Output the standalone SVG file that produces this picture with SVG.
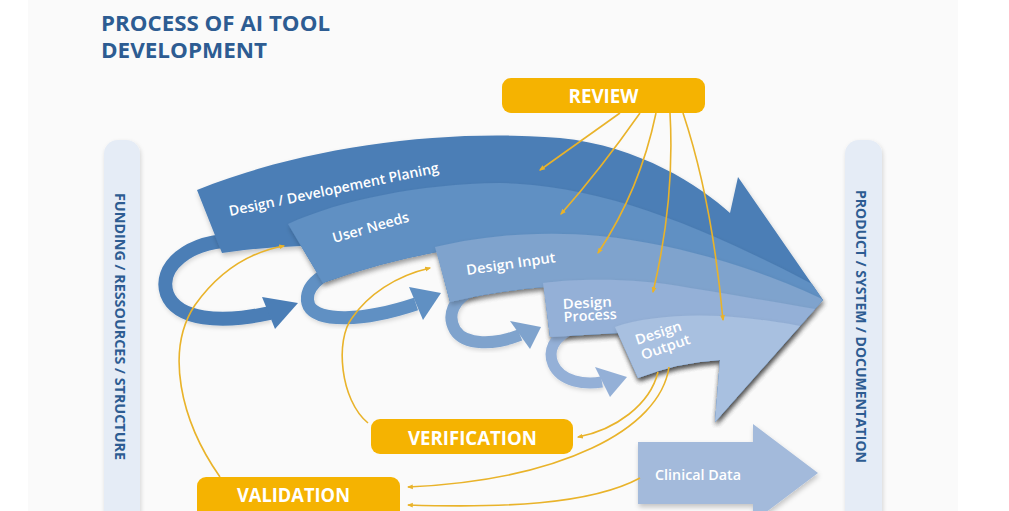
<svg xmlns="http://www.w3.org/2000/svg" width="1009" height="511" viewBox="0 0 1009 511">
<defs>
<style>
.title{font-family:"Open Sans","Liberation Sans",sans-serif;font-weight:700;font-size:22px;fill:#2d5c92}
.side{font-family:"Open Sans","Liberation Sans",sans-serif;font-weight:700;font-size:13.5px;fill:#2d5c92}
.btn{font-family:"Open Sans","Liberation Sans",sans-serif;font-weight:700;font-size:20px;fill:#ffffff;text-anchor:middle}
.lbl{font-family:"Open Sans","Liberation Sans",sans-serif;font-weight:600;font-size:14px;fill:#ffffff}
.ybox{fill:#f5b301}
.bar{fill:#e5ecf6}
.conn{fill:none;stroke:#e9b32a;stroke-width:1.6}
.loop{fill:none;stroke-linecap:butt}
</style>
<filter id="sh" x="-10%" y="-10%" width="125%" height="135%">
<feDropShadow dx="1" dy="3" stdDeviation="2.5" flood-color="#000" flood-opacity="0.22"/>
</filter>
<filter id="sh2" x="-20%" y="-10%" width="150%" height="130%">
<feDropShadow dx="1" dy="2" stdDeviation="2" flood-color="#000" flood-opacity="0.15"/>
</filter>
<marker id="ah" viewBox="0 0 10 10" refX="8" refY="5" markerWidth="6" markerHeight="6" orient="auto" markerUnits="userSpaceOnUse">
<path d="M0,1 L10,5 L0,9 Z" fill="#e9b32a"/>
</marker>
</defs>

<rect x="0" y="0" width="1009" height="511" fill="#ffffff"/>
<rect x="28" y="0" width="930" height="511" fill="#fafafa"/>

<g id="title">
<text class="title" x="101" y="30.5" textLength="229" lengthAdjust="spacingAndGlyphs">PROCESS OF AI TOOL</text>
<text class="title" x="101" y="58" textLength="166" lengthAdjust="spacingAndGlyphs">DEVELOPMENT</text>
</g>

<g id="left-bar">
<rect class="bar" x="104" y="140" width="36" height="400" rx="14" filter="url(#sh2)"/>
<text class="side" transform="translate(115,193) rotate(90)" textLength="267" lengthAdjust="spacingAndGlyphs">FUNDING / RESSOURCES / STRUCTURE</text>
</g>

<g id="right-bar">
<rect class="bar" x="845" y="140" width="37" height="400" rx="14" filter="url(#sh2)"/>
<text class="side" transform="translate(856,190) rotate(90)" textLength="273" lengthAdjust="spacingAndGlyphs">PRODUCT / SYSTEM / DOCUMENTATION</text>
</g>

<g id="loop-1">
<path class="loop" d="M240,240 C186,240 158,268 167,294 C177,320 220,324 270,313" stroke="#4b7eb6" stroke-width="14" filter="url(#sh2)"/>
<polygon points="262,297 298,303 275,329" fill="#4b7eb6"/>
</g>
<g id="band-1">
<path d="M197,190 C300,148 440,128 560,138 C640,146 700,186 730,213 L738,177 L823,300 L715,422 L720,360 Q680,362 638,378 L618,333 L550,337 L544,287 Q495,291 450,302 L437,252 Q378,263 323,283 L301,246 Q262,247 222,253 Z" fill="#4b7eb6" filter="url(#sh)"/>
<text class="lbl" transform="translate(230,216) rotate(-11.8)" textLength="214" lengthAdjust="spacingAndGlyphs">Design / Developement Planing</text>
</g>

<g id="loop-2">
<path class="loop" d="M352,265 C318,272 302,290 309,306 C318,322 362,322 416,304" stroke="#6090c3" stroke-width="13" filter="url(#sh2)"/>
<polygon points="409,287 441,293 423,320" fill="#6090c3"/>
</g>
<g id="band-2">
<path d="M288,224 C340,200 420,184 500,183 C600,185 700,225 812,284 L823,300 L715,422 L720,360 Q680,362 638,378 L618,333 L550,337 L544,287 Q495,291 450,302 L437,252 Q378,263 323,283 Z" fill="#6090c3" filter="url(#sh)"/>
<text class="lbl" transform="translate(334,243) rotate(-16)" textLength="79" lengthAdjust="spacingAndGlyphs">User Needs</text>
</g>

<g id="loop-3">
<path class="loop" d="M476,289 C452,298 447,316 455,330 C465,346 495,345 520,335" stroke="#7fa3cd" stroke-width="12" filter="url(#sh2)"/>
<polygon points="510,321 541,327 530,349" fill="#7fa3cd"/>
</g>
<g id="band-3">
<path d="M435,247 C480,236 540,230 600,236 C680,244 760,270 820,298 L823,300 L715,422 L720,360 Q680,362 638,378 L618,333 L550,337 L544,287 Q495,291 450,302 Z" fill="#7fa3cd" filter="url(#sh)"/>
<text class="lbl" transform="translate(467,275) rotate(-8.2)" textLength="90" lengthAdjust="spacingAndGlyphs">Design Input</text>
</g>

<g id="loop-4">
<path class="loop" d="M574,328 C552,337 548,352 553,364 C561,382 585,385 602,382" stroke="#94b0d7" stroke-width="11" filter="url(#sh2)"/>
<polygon points="595,367 627,377 610,397" fill="#94b0d7"/>
</g>
<g id="band-4">
<path d="M543,283 C580,278 640,278 690,288 C740,296 780,303 815,309 L715,422 L720,360 Q680,362 638,378 L618,333 L550,337 Z" fill="#94b0d7" filter="url(#sh)"/>
<text class="lbl" transform="translate(563,309) rotate(-3)" textLength="49" lengthAdjust="spacingAndGlyphs">Design</text>
<text class="lbl" transform="translate(564,322) rotate(-3.5)" textLength="53" lengthAdjust="spacingAndGlyphs">Process</text>
</g>

<g id="band-5">
<path d="M615,327 C640,318 680,314 720,316 C750,318 780,322 800,326 L715,422 L720,360 Q680,362 638,378 Z" fill="#a8c0e0" filter="url(#sh)"/>
<text class="lbl" transform="translate(637,345) rotate(-18)" textLength="48" lengthAdjust="spacingAndGlyphs">Design</text>
<text class="lbl" transform="translate(643,360) rotate(-19)" textLength="51" lengthAdjust="spacingAndGlyphs">Output</text>
</g>

<g id="clinical-data">
<polygon points="638,442 753,442 753,424 818,473 753,522 753,504 638,504" fill="#a3badb" filter="url(#sh)"/>
<text class="lbl" x="655" y="480" font-weight="500" textLength="86" lengthAdjust="spacingAndGlyphs">Clinical Data</text>
</g>

<g id="review">
<rect class="ybox" x="502" y="78" width="203" height="35" rx="9"/>
<text class="btn" x="603.5" y="103" textLength="70" lengthAdjust="spacingAndGlyphs">REVIEW</text>
</g>

<g id="verification">
<rect class="ybox" x="371" y="419" width="202" height="35" rx="9"/>
<text class="btn" x="472.5" y="445" textLength="129" lengthAdjust="spacingAndGlyphs">VERIFICATION</text>
</g>

<g id="validation">
<rect class="ybox" x="197" y="477" width="203" height="45" rx="9"/>
<text class="btn" x="293.5" y="502" textLength="113" lengthAdjust="spacingAndGlyphs">VALIDATION</text>
</g>

<g id="connectors">
<path class="conn" d="M620,113 L540,170" marker-end="url(#ah)"/>
<path class="conn" d="M640,113 Q600,170 561,214" marker-end="url(#ah)"/>
<path class="conn" d="M656,113 Q640,190 598,253" marker-end="url(#ah)"/>
<path class="conn" d="M670,113 Q675,200 653,292" marker-end="url(#ah)"/>
<path class="conn" d="M683,113 Q712,200 723,320" marker-end="url(#ah)"/>
<path class="conn" d="M658,372 C650,405 615,430 578,437" marker-end="url(#ah)"/>
<path class="conn" d="M669,367 C660,430 560,480 408,487" marker-end="url(#ah)"/>
<path class="conn" d="M640,478 C590,505 500,508 408,505" marker-end="url(#ah)"/>
<path class="conn" d="M368,423 C340,400 335,340 352,318 C368,295 395,276 430,268" marker-end="url(#ah)"/>
<path class="conn" d="M220,477 C180,420 165,350 195,305 C220,270 250,252 284,246" marker-end="url(#ah)"/>
</g>
</svg>
